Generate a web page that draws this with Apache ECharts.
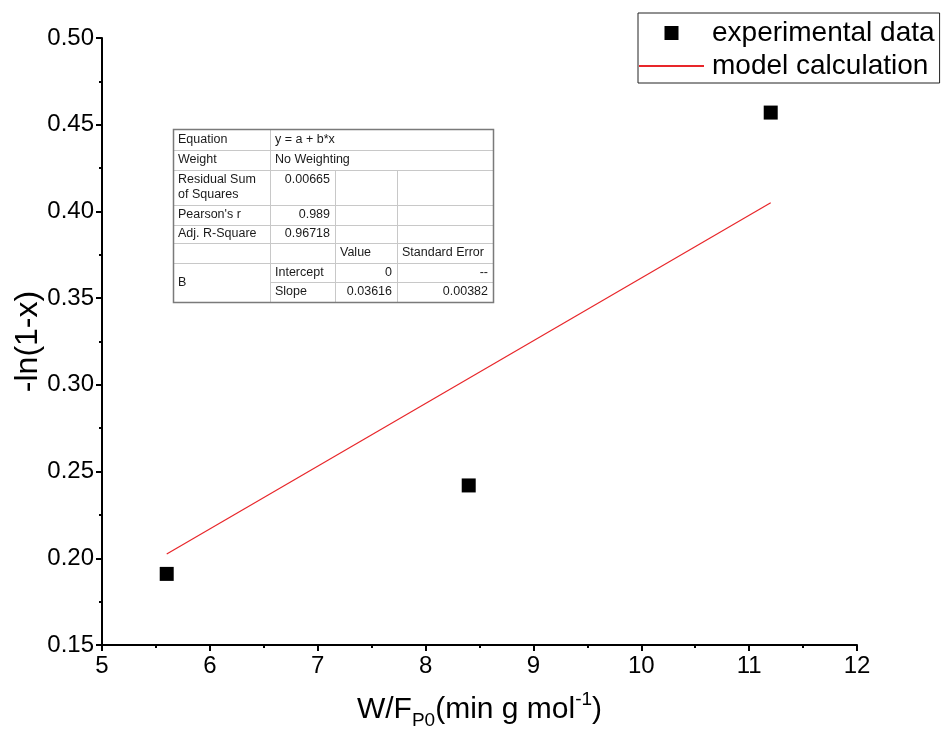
<!DOCTYPE html>
<html>
<head>
<meta charset="utf-8">
<script src="https://cdn.jsdelivr.net/npm/echarts@6/dist/echarts.min.js"></script>
<style>html,body{margin:0;padding:0;background:#fff;}#c{width:941px;height:731px;}</style>
</head>
<body>
<div id="c"></div>
<script>
// ---- data ----
const expX = [5.6, 8.4, 11.2];
const expY = [0.191, 0.242, 0.457];
const fitX = [5.6, 11.2];
const fitY = [0.2025, 0.405];
const seriesNames = ['experimental data', 'model calculation'];
const xTicks = [5, 6, 7, 8, 9, 10, 11, 12];
const yTicks = [0.15, 0.20, 0.25, 0.30, 0.35, 0.40, 0.45, 0.50];
const tableRows = [
  ['Equation', 'y = a + b*x', '', ''],
  ['Weight', 'No Weighting', '', ''],
  ['Residual Sum\nof Squares', '0.00665', '', ''],
  ["Pearson's r", '0.989', '', ''],
  ['Adj. R-Square', '0.96718', '', ''],
  ['', '', 'Value', 'Standard Error'],
  ['B', 'Intercept', '0', '--'],
  ['', 'Slope', '0.03616', '0.00382']
];

// ---- layout (not data) ----
const FONT = 'Liberation Sans, Arial, sans-serif';
const colX = [173, 270, 335, 397, 493];
const rowY = [129, 150, 170, 205, 225, 243, 263, 282, 302];
const outer = '#7a7a7a', inner = '#c8c8c8', tc = '#1a1a1a';

const g = [];
function hline(x1, x2, y) { g.push({type:'line', shape:{x1, y1:y+0.5, x2, y2:y+0.5}, style:{stroke:inner, lineWidth:1}, z:50}); }
function vline(x, y1, y2) { g.push({type:'line', shape:{x1:x+0.5, y1, x2:x+0.5, y2}, style:{stroke:inner, lineWidth:1}, z:50}); }
g.push({type:'rect', shape:{x:colX[0], y:rowY[0], width:colX[4]-colX[0], height:rowY[8]-rowY[0]}, style:{fill:'#fff', stroke:null}, z:49});
for (let i = 1; i < 8; i++) {
  if (i === 7) hline(colX[1], colX[4], rowY[i]); else hline(colX[0], colX[4], rowY[i]);
}
vline(colX[1], rowY[0], rowY[8]);
vline(colX[2], rowY[2], rowY[8]);
vline(colX[3], rowY[2], rowY[8]);
g.push({type:'rect', shape:{x:colX[0]+0.5, y:rowY[0]+0.5, width:colX[4]-colX[0], height:rowY[8]-rowY[0]}, style:{fill:null, stroke:outer, lineWidth:1.5}, z:51});

const rightAlign = {2:[1], 3:[1], 4:[1], 6:[2,3], 7:[2,3]};
tableRows.forEach((row, r) => {
  row.forEach((txt, c) => {
    if (!txt) return;
    let y0 = rowY[r], y1 = rowY[r+1];
    if (r === 6 && c === 0) y1 = rowY[8];
    const ra = rightAlign[r] && rightAlign[r].indexOf(c) >= 0;
    const topAligned = (r === 2);
    const x = ra ? colX[c+1] - 5 : colX[c] + 5;
    g.push({type:'text', z:52,
      style:{text:txt, x:x, y: topAligned ? y0 + 2 : (y0+y1)/2, textAlign: ra ? 'right' : 'left',
        textVerticalAlign: topAligned ? 'top' : 'middle', fill:tc, font:'12.5px ' + FONT, lineHeight:15}});
  });
});

const chart = echarts.init(document.getElementById('c'), null, {renderer:'canvas'});
chart.setOption({
  backgroundColor:'#fff',
  animation:false,
  textStyle:{fontFamily:FONT},
  grid:{left:102, right:84, top:38, bottom:86, containLabel:false, outerBoundsMode:'none'},
  legend:{
    orient:'vertical', left:638, top:13,
    padding:[5,5,2,0], itemGap:3,
    borderColor:'#222', borderWidth:1,
    itemWidth:65, itemHeight:14,
    textStyle:{fontSize:28, color:'#000', fontFamily:FONT, lineHeight:30, padding:[0,0,0,3]},
    data:[
      {name:seriesNames[0], icon:'path://M0,0H10V10H0Z', itemStyle:{opacity:1}},
      {name:seriesNames[1], itemStyle:{opacity:0}}
    ]
  },
  xAxis:{
    type:'value', min:xTicks[0], max:xTicks[xTicks.length-1], interval:1,
    name:'{a|W/F}{s|P0}{a|(min g mol}{p|-1}{a|)}',
    nameLocation:'middle', nameGap:45, nameMoveOverlap:false,
    nameTextStyle:{rich:{
      a:{fontSize:30, fontFamily:FONT, color:'#000', lineHeight:40},
      s:{fontSize:19, fontFamily:FONT, color:'#000', lineHeight:19, verticalAlign:'bottom'},
      p:{fontSize:19, fontFamily:FONT, color:'#000', lineHeight:19, verticalAlign:'top'}
    }},
    axisLine:{onZero:false, lineStyle:{color:'#000', width:2}},
    axisTick:{show:true, inside:false, length:6, lineStyle:{color:'#000', width:2}},
    minorTick:{show:true, splitNumber:2, length:3, lineStyle:{color:'#000', width:2}},
    splitLine:{show:false},
    axisLabel:{fontSize:24, color:'#000', margin:9, fontFamily:FONT}
  },
  yAxis:{
    type:'value', min:yTicks[0], max:yTicks[yTicks.length-1], interval:0.05,
    name:'-ln(1-x)', nameLocation:'middle', nameGap:58, nameMoveOverlap:false,
    nameTextStyle:{fontSize:32, color:'#000', fontFamily:FONT},
    axisLine:{onZero:false, lineStyle:{color:'#000', width:2}},
    axisTick:{show:true, inside:false, length:6, lineStyle:{color:'#000', width:2}},
    minorTick:{show:true, splitNumber:2, length:3, lineStyle:{color:'#000', width:2}},
    splitLine:{show:false},
    axisLabel:{fontSize:24, color:'#000', margin:8, fontFamily:FONT, formatter:v => v.toFixed(2)}
  },
  series:[
    {name:seriesNames[0], type:'scatter', symbol:'rect', symbolSize:14,
     itemStyle:{color:'#000', opacity:1}, data:expX.map((x,i)=>[x, expY[i]]), z:5},
    {name:seriesNames[1], type:'line', symbol:'none', showSymbol:false,
     lineStyle:{color:'#e8262a', width:1.2}, itemStyle:{color:'#e8262a'},
     data:fitX.map((x,i)=>[x, fitY[i]]), z:4}
  ],
  graphic:g
});
</script>
</body>
</html>
